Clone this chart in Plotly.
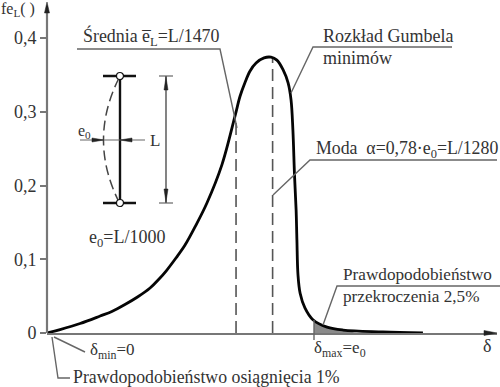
import plotly.graph_objects as go

# Curve: deflection in units of e0, probability density
delta = [0, 0.049, 0.124, 0.199, 0.243, 0.292, 0.339, 0.386, 0.418, 0.449, 0.483, 0.517, 0.558, 0.599, 0.655, 0.704,
         0.723, 0.742, 0.76, 0.783, 0.813, 0.839, 0.861, 0.884, 0.903, 0.914, 0.921, 0.927, 0.933, 0.936, 0.94, 0.948,
         0.966, 0.996, 1.049, 1.109, 1.258, 1.408]
density = [0, 0.0047, 0.0129, 0.023, 0.0292, 0.0386, 0.0488, 0.061, 0.0725, 0.0854, 0.1017, 0.1193, 0.1464, 0.1763,
           0.228, 0.294, 0.321, 0.34, 0.355, 0.366, 0.373, 0.374, 0.37, 0.357, 0.339, 0.316, 0.275, 0.214, 0.167,
           0.126, 0.079, 0.054, 0.034, 0.018, 0.008, 0.004, 0.0015, 0]
tail_delta = [1.0, 1.049, 1.109, 1.16]
tail_density = [0.017, 0.008, 0.004, 0.0]
mean_delta = [0.708, 0.708]
mean_density = [0, 0.29]
mode_delta = [0.845, 0.845]
mode_density = [0, 0.372]
y_ticks = [0, 0.1, 0.2, 0.3, 0.4]
y_labels = ["0", "0,1", "0,2", "0,3", "0,4"]

W, H, L, B, R = 500, 387, 47, 54, 3
PW, PH = W - L - R, H - B


def px(x):
    return (x - L) / PW


def py(y):
    return (H - B - y) / PH


INK = "#333333"
GREY = "#666666"
FONT = "Liberation Serif"

labels = [
    (81, 37, "Średnia e\u0305<sub>L</sub>=L/1470", 17.9),
    (321, 36, "Rozkład Gumbela", 18),
    (321, 58, "minimów", 18),
    (314, 149, "Moda  α=0,78·e<sub>0</sub>=L/1280", 17.8),
    (341, 274, "Prawdopodobieństwo", 17.2),
    (341, 296, "przekroczenia 2,5%", 17.2),
    (312, 349, "δ<sub>max</sub>=e<sub>0</sub>", 17),
    (481, 346, "δ", 18),
    (88, 351, "δ<sub>min</sub>=0", 17),
    (71, 377, "Prawdopodobieństwo osiągnięcia 1%", 17.8),
    (87, 238, "e<sub>0</sub>=L/1000", 18),
    (76, 131, "e<sub>0</sub>", 16),
    (148, 140, "L", 17),
    (-1, 10, "fe<sub>L</sub>( )", 16),
]

leaders = [
    [(77, 49), (220, 49), (237, 128)],
    [(452, 47), (313, 47), (291, 93)],
    [(497, 160), (310, 160), (273, 195)],
    [(500, 286), (337, 286), (323, 325)],
    [(54, 337), (85, 352)],
    [(52, 337), (58, 378), (70, 378)],
    [(314, 320), (314, 340)],
]

fig = go.Figure()
fig.add_trace(go.Scatter(x=tail_delta, y=tail_density, mode="lines", line=dict(color="rgba(0,0,0,0)"),
                         fill="tozeroy", fillcolor="#8a8a8a", hoverinfo="skip"))
for xs, ys in [(mean_delta, mean_density), (mode_delta, mode_density)]:
    fig.add_trace(go.Scatter(x=xs, y=ys, mode="lines", line=dict(color="#555555", width=1.6, dash="12px,6px")))
fig.add_trace(go.Scatter(x=delta, y=density, mode="lines",
                         line=dict(color="#050505", width=2.8, shape="spline", smoothing=1.0)))

shapes = []


def seg(pts, color=GREY, width=1.4, dash=None):
    d = "M " + " L ".join(f"{px(a):.5f},{py(b):.5f}" for a, b in pts)
    shapes.append(dict(type="path", path=d, xref="paper", yref="paper", layer="above",
                       line=dict(color=color, width=width, dash=dash)))


def tri(pts, color="#222222"):
    d = "M " + " L ".join(f"{px(a):.5f},{py(b):.5f}" for a, b in pts) + " Z"
    shapes.append(dict(type="path", path=d, xref="paper", yref="paper", layer="above",
                       fillcolor=color, line=dict(color=color, width=0.5)))


for p in leaders:
    seg(p)

# Axis arrows
seg([(47, 333), (47, 12)], "#777777", 2.2)
tri([(47, 2), (44.5, 13), (49.5, 13)])
tri([(497, 333), (484, 330.5), (484, 335.5)])

# Inset: column with its bow, e0 and L dimensions
seg([(120, 76), (120, 203)], "#111111", 2.4)
seg([(103, 76), (136, 76)], "#111111", 2.6)
seg([(103, 203), (136, 203)], "#111111", 2.6)
shapes.append(dict(type="path",
                   path=f"M {px(119):.5f},{py(78):.5f} Q {px(88):.5f},{py(140):.5f} {px(119):.5f},{py(202):.5f}",
                   xref="paper", yref="paper", layer="above",
                   line=dict(color="#444444", width=1.5, dash="10px,5px")))
seg([(80, 140), (145, 140)], GREY, 1.2)
tri([(104, 140), (92, 138), (92, 142)])
tri([(120, 140), (132, 138), (132, 142)])
seg([(159, 76), (173, 76)], GREY, 1.2)
seg([(159, 203), (173, 203)], GREY, 1.2)
seg([(166, 76), (166, 203)], "#333333", 1.2)
tri([(166, 77), (164, 90), (168, 90)])
tri([(166, 202), (164, 189), (168, 189)])
for cy in (76, 203):
    shapes.append(dict(type="circle", xref="paper", yref="paper", layer="above",
                       x0=px(116.5), x1=px(123.5), y0=py(cy + 3.5), y1=py(cy - 3.5),
                       fillcolor="white", line=dict(color="#111111", width=1.2)))

annotations = [dict(x=px(a), y=py(b), xref="paper", yref="paper", text=t, showarrow=False,
                    xanchor="left", yanchor="middle", font=dict(family=FONT, size=s, color=INK))
               for a, b, t, s in labels]

fig.update_layout(
    width=W, height=H, autosize=False, showlegend=False,
    margin=dict(l=L, r=R, t=0, b=B, pad=0),
    paper_bgcolor="white", plot_bgcolor="white",
    font=dict(family=FONT, size=16, color=INK),
    shapes=shapes, annotations=annotations,
    xaxis=dict(range=[0, PW / 267], showgrid=False, zeroline=False, showticklabels=False, ticks="",
               showline=True, linecolor="#777777", linewidth=1.6, fixedrange=True),
    yaxis=dict(range=[0, PH / 737.5], showgrid=False, zeroline=False, tickmode="array", tickvals=y_ticks,
               ticktext=y_labels, ticks="outside", ticklen=6, tickwidth=1.6, tickcolor="#777777",
               showline=False, tickfont=dict(family=FONT, size=18, color=INK), fixedrange=True),
)
fig.write_html("out.html", config=dict(displayModeBar=False),
               post_script="document.body.style.margin='0';document.documentElement.style.overflow='hidden';")
